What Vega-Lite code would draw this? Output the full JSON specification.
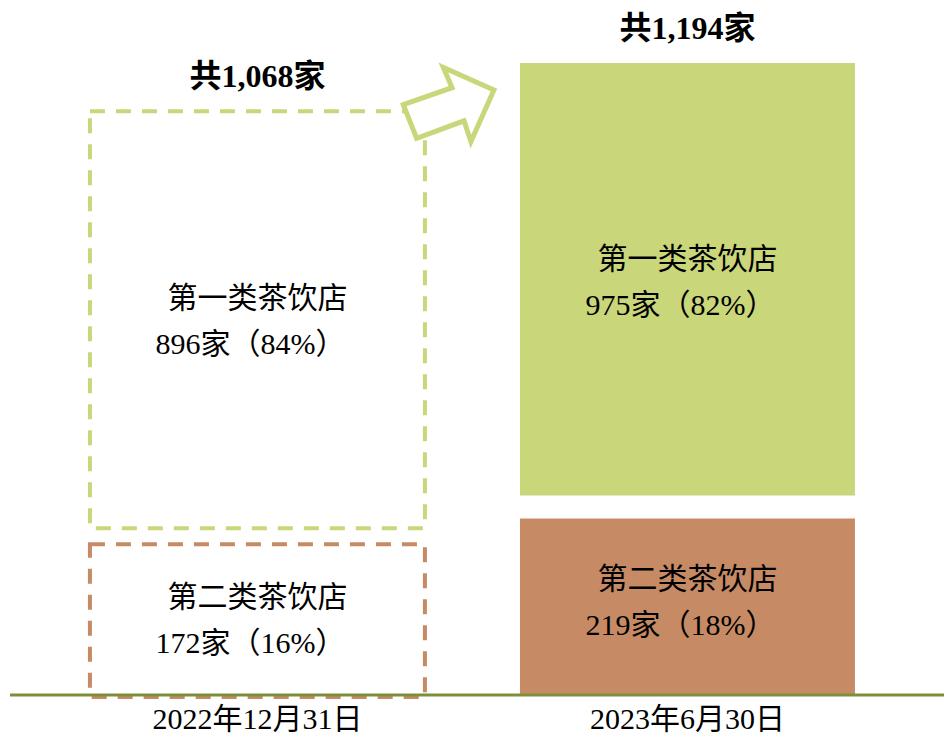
{
  "$schema": "https://vega.github.io/schema/vega-lite/v6.json",
  "width": 934,
  "height": 632,
  "autosize": {"type": "none"},
  "padding": {"left": 10, "top": 63, "right": 0, "bottom": 41},
  "background": "white",
  "config": {
    "view": {"stroke": null},
    "font": "'Liberation Serif', 'Noto Sans CJK SC', serif",
    "axisX": {
      "domain": false,
      "ticks": false,
      "grid": false,
      "labelAngle": 0,
      "labelLimit": 500,
      "labelFont": "'Liberation Serif', 'Noto Sans CJK SC', serif",
      "labelFontSize": 30,
      "labelColor": "#000000",
      "labelPadding": 9
    }
  },
  "datasets": {
    "seg": [
      {"date": "2022年12月31日", "category": "第一类茶饮店", "count": 896, "label": "896家（84%）"},
      {"date": "2022年12月31日", "category": "第二类茶饮店", "count": 172, "label": "172家（16%）"},
      {"date": "2023年6月30日", "category": "第一类茶饮店", "count": 975, "label": "975家（82%）"},
      {"date": "2023年6月30日", "category": "第二类茶饮店", "count": 219, "label": "219家（18%）"}
    ],
    "tot": [
      {"date": "2022年12月31日", "total": 1068, "label": "共1,068家"},
      {"date": "2023年6月30日", "total": 1194, "label": "共1,194家"}
    ]
  },
  "layer": [
    {
      "data": {"name": "seg"},
      "transform": [
        {"stack": "count", "groupby": ["date"], "sort": [{"field": "category", "order": "descending"}], "as": ["y0", "y1"]}
      ],
      "layer": [
        {
          "transform": [{"filter": "datum.date === '2023年6月30日' && datum.category === '第一类茶饮店'"}],
          "mark": {"type": "bar", "color": "#C9D67A", "y2Offset": -11},
          "encoding": {
            "x": {"field": "date", "type": "nominal", "title": null, "scale": {"paddingInner": 0.221, "paddingOuter": 0.1965, "align": 0.473}},
            "y": {"field": "y1", "type": "quantitative", "scale": {"type": "pow", "exponent": 0.713, "domain": [0, 1194], "nice": false}, "axis": null},
            "y2": {"field": "y0"}
          }
        },
        {
          "transform": [{"filter": "datum.date === '2023年6月30日' && datum.category === '第二类茶饮店'"}],
          "mark": {"type": "bar", "color": "#C68A64", "yOffset": 12},
          "encoding": {
            "x": {"field": "date", "type": "nominal", "title": null},
            "y": {"field": "y1", "type": "quantitative", "axis": null},
            "y2": {"field": "y0"}
          }
        },
        {
          "transform": [{"filter": "datum.date === '2022年12月31日' && datum.category === '第一类茶饮店'"}],
          "mark": {"type": "bar", "filled": false, "color": "#C9D67A", "strokeWidth": 4, "strokeDash": [15, 11], "y2Offset": -8},
          "encoding": {
            "x": {"field": "date", "type": "nominal", "title": null},
            "y": {"field": "y1", "type": "quantitative", "axis": null},
            "y2": {"field": "y0"}
          }
        },
        {
          "transform": [{"filter": "datum.date === '2022年12月31日' && datum.category === '第二类茶饮店'"}],
          "mark": {"type": "bar", "filled": false, "color": "#C68A64", "strokeWidth": 4, "strokeDash": [15, 11], "yOffset": 8, "y2Offset": 2},
          "encoding": {
            "x": {"field": "date", "type": "nominal", "title": null},
            "y": {"field": "y1", "type": "quantitative", "axis": null},
            "y2": {"field": "y0"}
          }
        },
        {
          "transform": [
            {"fold": ["y0", "y1"], "as": ["edge", "pos"]},
            {"aggregate": [{"op": "mean", "field": "pos", "as": "mid"}], "groupby": ["date", "category", "label"]}
          ],
          "layer": [
            {
              "mark": {"type": "text", "fontSize": 30, "color": "#000000", "baseline": "middle", "align": "center", "dy": 0},
              "encoding": {
                "x": {"field": "date", "type": "nominal", "title": null},
                "y": {"field": "mid", "type": "quantitative", "axis": null},
                "text": {"field": "category"}
              }
            },
            {
              "mark": {"type": "text", "fontSize": 30, "color": "#000000", "baseline": "middle", "align": "center", "dy": 46, "dx": -7},
              "encoding": {
                "x": {"field": "date", "type": "nominal", "title": null},
                "y": {"field": "mid", "type": "quantitative", "axis": null},
                "text": {"field": "label"}
              }
            }
          ]
        }
      ]
    },
    {
      "data": {"name": "tot"},
      "layer": [
        {
          "mark": {"type": "text", "fontSize": 32, "fontWeight": "bold", "color": "#000000", "baseline": "middle", "align": "center", "dy": -34},
          "encoding": {
            "x": {"field": "date", "type": "nominal", "title": null},
            "y": {"field": "total", "type": "quantitative", "axis": null},
            "text": {"field": "label"}
          }
        },
        {
          "transform": [{"filter": "datum.date === '2022年12月31日'"}],
          "mark": {"type": "rule", "color": "#7D8F3B", "strokeWidth": 3},
          "encoding": {
            "y": {"datum": 0, "type": "quantitative", "axis": null}
          }
        },
        {
          "transform": [{"filter": "datum.date === '2022年12月31日'"}],
          "mark": {
            "type": "point",
            "shape": "M-0.98,0 L0.08,-0.37 L-0.11,-0.81 L0.99,-0.32 L0.49,0.8 L0.34,0.35 L-0.69,0.73 Z",
            "size": 8464,
            "filled": true,
            "fill": "#FFFFFF",
            "fillOpacity": 1,
            "stroke": "#C9D67A",
            "strokeOpacity": 1,
            "strokeWidth": 5,
            "strokeJoin": "miter",
            "opacity": 1
          },
          "encoding": {
            "x": {"field": "date", "type": "nominal", "title": null, "bandPosition": 1.07},
            "y": {"datum": 1085, "type": "quantitative", "axis": null}
          }
        }
      ]
    }
  ]
}
